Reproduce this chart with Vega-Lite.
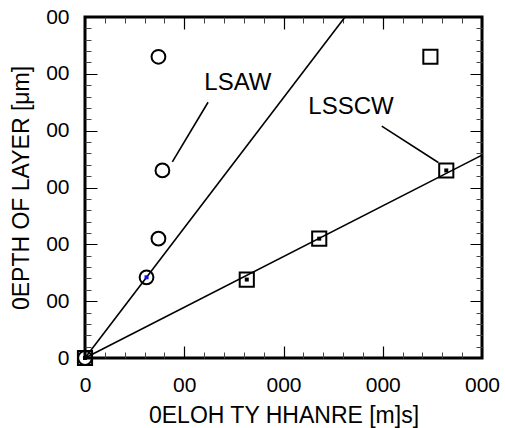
{
  "$schema": "https://vega.github.io/schema/vega-lite/v6.json",
  "width": 397,
  "height": 341,
  "autosize": {"type": "none"},
  "padding": {"left": 85, "top": 17, "right": 23, "bottom": 70},
  "background": "white",
  "config": {
    "view": {"stroke": "black", "strokeWidth": 3, "fill": "transparent"},
    "font": "Liberation Sans",
    "axis": {"zindex": 1, "domain": false, "ticks": false, "tickSize": 0, "labelFont": "Liberation Sans", "titleFont": "Liberation Sans", "labelColor": "black", "titleColor": "black", "gridColor": "black", "gridOpacity": 1, "gridWidth": 1.2, "titleFontWeight": "normal", "labelFontSize": 21, "titleFontSize": 23}
  },
  "datasets": {
    "fits": [
      {"series": "LSAW", "x": 0, "y": 0, "x2": 262, "y2": 60},
      {"series": "LSSCW", "x": 0, "y": 0, "x2": 400, "y2": 35.7}
    ],
    "leaders": [
      {"series": "LSAW", "x": 124, "y": 45, "x2": 88, "y2": 34.5},
      {"series": "LSSCW", "x": 299, "y": 40.8, "x2": 356, "y2": 34.4}
    ],
    "points": [
      {"series": "LSAW", "x": 0, "y": 0, "onLine": true},
      {"series": "LSAW", "x": 62, "y": 14.2, "onLine": true},
      {"series": "LSAW", "x": 74, "y": 21, "onLine": false},
      {"series": "LSAW", "x": 78, "y": 33, "onLine": false},
      {"series": "LSAW", "x": 74, "y": 53, "onLine": false},
      {"series": "LSSCW", "x": 0, "y": 0, "onLine": true},
      {"series": "LSSCW", "x": 163, "y": 13.8, "onLine": true},
      {"series": "LSSCW", "x": 236, "y": 21, "onLine": true},
      {"series": "LSSCW", "x": 364, "y": 33, "onLine": true},
      {"series": "LSSCW", "x": 348, "y": 53, "onLine": false}
    ],
    "labels": [
      {"series": "LSAW", "x": 154, "y": 48.4},
      {"series": "LSSCW", "x": 268, "y": 44.2}
    ]
  },
  "resolve": {"axis": {"x": "independent", "y": "independent"}},
  "layer": [
    {
      "data": {"name": "fits"},
      "mark": {"type": "rule", "color": "black", "strokeWidth": 1.6},
      "encoding": {
        "x": {"field": "x", "type": "quantitative", "scale": {"domain": [0, 400], "nice": false, "zero": false},
          "axis": {"orient": "bottom", "title": "0ELOH TY HHANRE [m]s]", "values": [0, 100, 200, 300, 400],
            "labelExpr": "datum.value === 0 ? '0' : (datum.value === 100 ? '00' : '000')",
            "grid": true, "gridDash": [12, 317, 12],
            "labelPadding": 16, "titlePadding": 9, "labelFlush": false, "labelOverlap": false}},
        "y": {"field": "y", "type": "quantitative", "scale": {"domain": [0, 60], "nice": false, "zero": false},
          "axis": {"orient": "left", "title": "0EPTH OF LAYER [μm]", "values": [0, 10, 20, 30, 40, 50, 60],
            "labelExpr": "datum.value === 0 ? '0' : '00'",
            "grid": true, "gridDash": [12, 373, 12],
            "labelPadding": 16, "titlePadding": 12, "labelFlush": false, "labelOverlap": false}},
        "x2": {"field": "x2"},
        "y2": {"field": "y2"}
      }
    },
    {
      "data": {"name": "leaders"},
      "mark": {"type": "rule", "color": "black", "strokeWidth": 1.6},
      "encoding": {
        "x": {"field": "x", "type": "quantitative",
          "axis": {"orient": "top", "title": null, "labels": false, "values": [20,40,60,80,120,140,160,180,220,240,260,280,320,340,360,380],
            "grid": true, "gridColor": "#444444", "gridWidth": 1, "gridDash": [6, 329, 6]}},
        "y": {"field": "y", "type": "quantitative",
          "axis": {"orient": "right", "title": null, "labels": false, "values": [2,4,6,8,12,14,16,18,22,24,26,28,32,34,36,38,42,44,46,48,52,54,56,58],
            "grid": true, "gridColor": "#444444", "gridWidth": 1, "gridDash": [6, 385, 6]}},
        "x2": {"field": "x2"},
        "y2": {"field": "y2"}
      }
    },
    {
      "data": {"name": "points"},
      "transform": [{"filter": "datum.series === 'LSAW'"}],
      "mark": {"type": "point", "shape": "circle", "filled": false, "stroke": "black", "opacity": 1, "strokeWidth": 2, "size": 190, "clip": false},
      "encoding": {
        "x": {"field": "x", "type": "quantitative", "axis": null},
        "y": {"field": "y", "type": "quantitative", "axis": null}
      }
    },
    {
      "data": {"name": "points"},
      "transform": [{"filter": "datum.series === 'LSSCW'"}],
      "mark": {"type": "point", "shape": "square", "filled": false, "stroke": "black", "opacity": 1, "strokeWidth": 2, "size": 200, "clip": false},
      "encoding": {
        "x": {"field": "x", "type": "quantitative", "axis": null},
        "y": {"field": "y", "type": "quantitative", "axis": null}
      }
    },
    {
      "data": {"name": "points"},
      "transform": [{"filter": "datum.onLine"}],
      "mark": {"type": "point", "shape": "square", "filled": true, "opacity": 1, "size": 16},
      "encoding": {
        "x": {"field": "x", "type": "quantitative", "axis": null},
        "y": {"field": "y", "type": "quantitative", "axis": null},
        "color": {"field": "series", "type": "nominal", "scale": {"domain": ["LSAW", "LSSCW"], "range": ["#1010e0", "black"]}, "legend": null}
      }
    },
    {
      "data": {"name": "labels"},
      "mark": {"type": "text", "font": "Liberation Sans", "fontSize": 24, "color": "black", "align": "center", "baseline": "middle"},
      "encoding": {
        "x": {"field": "x", "type": "quantitative", "axis": null},
        "y": {"field": "y", "type": "quantitative", "axis": null},
        "text": {"field": "series"}
      }
    }
  ]
}
